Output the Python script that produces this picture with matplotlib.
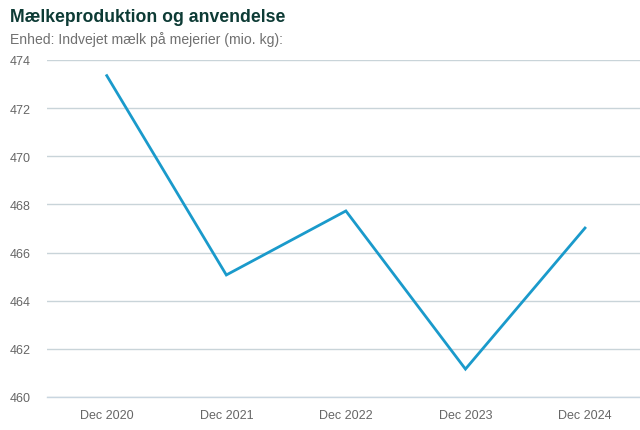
import matplotlib
matplotlib.use("Agg")
import matplotlib.pyplot as plt

plt.rcParams['font.family'] = ['Liberation Sans', 'DejaVu Sans']

categories = ["Dec 2020", "Dec 2021", "Dec 2022", "Dec 2023", "Dec 2024"]
values = [473.35, 465.07, 467.73, 461.16, 467.02]
yticks = [460, 462, 464, 466, 468, 470, 472, 474]

fig = plt.figure(figsize=(6.4, 4.31), dpi=100)
ax = fig.add_axes([47/640, 33/431, 1 - 47/640, (398-61)/431])

x = list(range(len(categories)))
ax.plot(x, values, color="#1a9acb", linewidth=2.0, solid_joinstyle="miter")

ax.set_ylim(460, 474)
ax.set_xlim(-0.5, 4.46)
ax.set_yticks(yticks)
ax.set_yticklabels([str(t) for t in yticks])
ax.set_xticks(x)
ax.set_xticklabels(categories)
ax.grid(axis="y", color="#c9d4d9", linewidth=1.0)
ax.set_axisbelow(True)
for s in ["top", "right", "left"]:
    ax.spines[s].set_visible(False)
ax.spines["bottom"].set_color("#c9d6e0")
ax.spines["bottom"].set_linewidth(1.0)
ax.tick_params(axis="both", length=0, labelsize=9, labelcolor="#666666")
ax.tick_params(axis="y", pad=11.5)
ax.tick_params(axis="x", pad=8.5)
for lbl in ax.get_yticklabels():
    lbl.set_horizontalalignment("right")

fig.text(10/640, 1 - 17/431, "Mælkeproduktion og anvendelse", fontsize=12.7,
         fontweight="bold", color="#0d3b35", va="center", ha="left")
fig.text(10/640, 1 - 40/431, "Enhed: Indvejet mælk på mejerier (mio. kg):", fontsize=10.1,
         color="#707070", va="center", ha="left")

fig.savefig("out.png", dpi=100)
